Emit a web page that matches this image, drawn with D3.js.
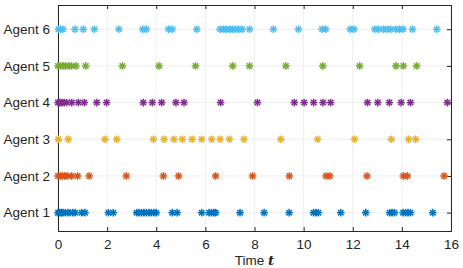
<!DOCTYPE html>
<html>
<head>
<meta charset="utf-8">
<script src="https://cdn.jsdelivr.net/npm/d3@7"></script>
<style>
  body { margin: 0; background: #fff; }
  text { font-family: "Liberation Sans", Arial, sans-serif; fill: #262626; }
</style>
</head>
<body>
<div class="chart"></div>
<script>
var svgWidth = 463;
var svgHeight = 268;

// data: event times of each agent
var agents = ["Agent 1", "Agent 2", "Agent 3", "Agent 4", "Agent 5", "Agent 6"];
var colors = ["#0072BD", "#D95319", "#EDB120", "#7E2F8E", "#77AC30", "#4DBEEE"];
var xTicks = [0, 2, 4, 6, 8, 10, 12, 14, 16];

var agent1 = [0.0, 0.05, 0.1, 0.15, 0.2, 0.3, 0.4, 0.5, 0.6, 0.7, 0.96, 1.1, 2.05, 2.25,
  3.2, 3.3, 3.4, 3.5, 3.6, 3.7, 3.8, 3.9, 4.0, 4.65, 4.85, 5.85, 6.15, 6.25, 6.35, 6.42,
  7.41, 8.39, 9.41, 10.4, 10.5, 10.6, 11.51, 12.53, 13.5, 13.6, 13.7,
  14.05, 14.15, 14.25, 14.35, 15.26];
var agent2 = [0.0, 0.1, 0.18, 0.27, 0.38, 0.56, 0.8, 1.27, 2.78, 4.29, 4.91, 6.42, 7.92,
  9.42, 10.91, 11.07, 12.58, 14.06, 14.22, 15.72];
var agent3 = [0.01, 0.42, 1.91, 2.39, 3.88, 4.32, 4.72, 5.06, 5.46, 5.85, 6.26, 6.6, 6.98,
  7.57, 9.07, 10.57, 12.07, 13.57, 14.28, 14.56];
var agent4 = [0.0, 0.08, 0.16, 0.25, 0.35, 0.56, 0.83, 1.07, 1.58, 1.98, 3.47, 3.84, 4.22,
  4.8, 5.13, 6.62, 8.12, 9.62, 10.02, 10.41, 10.79, 11.1, 12.6, 13.02, 13.49, 13.97,
  14.35, 15.85];
var agent5 = [0.0, 0.1, 0.2, 0.3, 0.45, 0.55, 0.73, 1.13, 2.62, 4.11, 5.6, 7.11, 7.8,
  9.28, 10.78, 12.28, 13.76, 14.06, 14.6];
var agent6 = [0.02, 0.1, 0.2, 0.69, 1.03, 1.48, 2.48, 3.45, 3.6, 4.5, 4.65, 5.65,
  6.6, 6.75, 6.85, 7.0, 7.1, 7.2, 7.35, 7.5, 7.8, 8.77, 9.79, 10.75, 10.9, 11.9, 12.05,
  12.9, 13.05, 13.25, 13.4, 13.55, 13.75, 13.9, 14.05, 14.43, 15.42];
var series = [agent1, agent2, agent3, agent4, agent5, agent6];

var margin = { top: 5, right: 12, bottom: 37, left: 58 };
var width = svgWidth - margin.left - margin.right;
var height = svgHeight - margin.top - margin.bottom;

var svg = d3.select(".chart")
  .append("svg")
  .attr("width", svgWidth)
  .attr("height", svgHeight);

var chartGroup = svg.append("g")
  .attr("transform", `translate(${margin.left}, ${margin.top})`);

var xScale = d3.scaleLinear().domain([0, 16]).range([0, width]);
var yScale = d3.scaleLinear().domain([0.5, 6.66]).range([height, 0]);

// grid
chartGroup.append("g")
  .selectAll("line.vgrid")
  .data(xTicks)
  .enter()
  .append("line")
  .attr("x1", d => xScale(d))
  .attr("x2", d => xScale(d))
  .attr("y1", 0)
  .attr("y2", height)
  .attr("stroke", "#efefef")
  .attr("stroke-width", 1);

chartGroup.append("g")
  .selectAll("line.hgrid")
  .data(agents)
  .enter()
  .append("line")
  .attr("x1", 0)
  .attr("x2", width)
  .attr("y1", (d, i) => yScale(i + 1))
  .attr("y2", (d, i) => yScale(i + 1))
  .attr("stroke", "#efefef")
  .attr("stroke-width", 1);

// axes
var bottomAxis = d3.axisBottom(xScale).tickValues(xTicks).tickSize(-4).tickPadding(8);
var leftAxis = d3.axisLeft(yScale).tickValues([1, 2, 3, 4, 5, 6])
  .tickFormat((d) => agents[d - 1]).tickSize(-4).tickPadding(8);

var xAxis = chartGroup.append("g")
  .attr("transform", `translate(0, ${height})`)
  .call(bottomAxis);
var yAxis = chartGroup.append("g").call(leftAxis);

chartGroup.append("g")
  .call(d3.axisTop(xScale).tickValues(xTicks).tickSize(-4).tickFormat(""));
chartGroup.append("g")
  .attr("transform", `translate(${width}, 0)`)
  .call(d3.axisRight(yScale).tickValues([1, 2, 3, 4, 5, 6]).tickSize(-4).tickFormat(""));

chartGroup.selectAll(".domain").attr("stroke", "#262626");
chartGroup.selectAll(".tick line").attr("stroke", "#262626");
chartGroup.selectAll(".tick text").style("font-size", "13.5px").attr("fill", "#262626");

// markers (asterisks)
var r = 3.8;
series.forEach(function(vals, i) {
  var g = chartGroup.append("g").attr("stroke", colors[i]).attr("stroke-width", 1.5);
  var marks = g.selectAll("g.mark")
    .data(vals)
    .enter()
    .append("g")
    .attr("transform", d => `translate(${xScale(d)}, ${yScale(i + 1)})`);
  marks.append("line").attr("x1", -r).attr("x2", r).attr("y1", 0).attr("y2", 0);
  marks.append("line").attr("x1", 0).attr("x2", 0).attr("y1", -r).attr("y2", r);
  marks.append("line").attr("x1", -r * 0.72).attr("x2", r * 0.72).attr("y1", -r * 0.72).attr("y2", r * 0.72);
  marks.append("line").attr("x1", -r * 0.72).attr("x2", r * 0.72).attr("y1", r * 0.72).attr("y2", -r * 0.72);
});

// x label
var xLabel = chartGroup.append("text")
  .attr("x", width / 2)
  .attr("y", height + 34)
  .attr("text-anchor", "middle")
  .style("font-size", "13.5px");
xLabel.append("tspan").text("Time ");
xLabel.append("tspan")
  .style("font-family", "'DejaVu Serif', serif")
  .style("font-style", "italic")
  .style("font-weight", "bold")
  .text("t");
</script>
</body>
</html>
